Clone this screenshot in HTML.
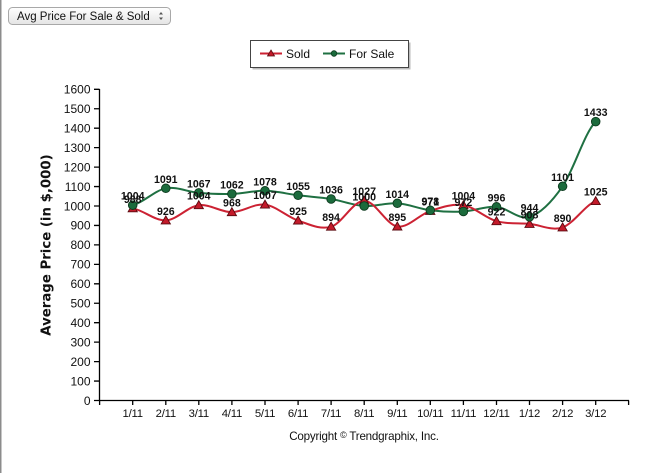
<!DOCTYPE html>
<html>
<head>
<meta charset="utf-8">
<style>
html,body{margin:0;padding:0;background:#fff;}
body{width:667px;height:473px;overflow:hidden;position:relative;}
svg{position:absolute;left:0;top:0;}
text{font-family:"Liberation Sans",Arial,sans-serif;}
</style>
</head>
<body>
<svg width="667" height="473" viewBox="0 0 667 473" xmlns="http://www.w3.org/2000/svg">
  <defs>
    <linearGradient id="dd" x1="0" y1="0" x2="0" y2="1">
      <stop offset="0" stop-color="#ffffff"/>
      <stop offset="1" stop-color="#e4e4e4"/>
    </linearGradient>
  </defs>
  <!-- left border -->
  <rect x="0" y="0" width="1.5" height="473" fill="#8c8c8c"/>

  <!-- dropdown -->
  <rect x="8.5" y="7.5" width="162" height="17" rx="4" ry="4" fill="url(#dd)" stroke="#a8a8a8"/>
  <text x="17" y="20" font-size="11.5" fill="#111">Avg Price For Sale &amp; Sold</text>
  <path d="M159,14.5 L163,14.5 L161,12 Z M159,17.5 L163,17.5 L161,20 Z" fill="#555"/>

  <!-- legend -->
  <rect x="252.5" y="42.5" width="158" height="27" fill="#bbb"/>
  <rect x="250.5" y="40.5" width="158" height="27" fill="#fff" stroke="#444"/>
  <line x1="260" y1="53.5" x2="282" y2="53.5" stroke="#cc2233" stroke-width="2"/>
  <path d="M271,50 L274.5,56 L267.5,56 Z" fill="#c41a2a" stroke="#5a0a10" stroke-width="0.8"/>
  <text x="286" y="58" font-size="12" fill="#111">Sold</text>
  <line x1="323" y1="53.5" x2="345" y2="53.5" stroke="#1f7042" stroke-width="2"/>
  <circle cx="334" cy="53.5" r="2.8" fill="#1b6b3c" stroke="#0d3a1e" stroke-width="0.8"/>
  <text x="349" y="58" font-size="12" fill="#111">For Sale</text>

  <!-- y axis title -->
  <text transform="translate(50.5,245) rotate(-90)" text-anchor="middle" font-size="13.3" font-weight="bold" fill="#111" style="font-family:'DejaVu Sans',Verdana,sans-serif">Average Price (in $,000)</text>

  <!-- axes -->
  <g stroke="#000" stroke-width="1.3" fill="none">
    <line x1="99.5" y1="89" x2="99.5" y2="401"/>
    <line x1="99" y1="400.5" x2="629" y2="400.5"/>
    <path d="M94,400.5H99.5 M94,381.05H99.5 M94,361.6H99.5 M94,342.15H99.5 M94,322.7H99.5 M94,303.25H99.5 M94,283.8H99.5 M94,264.35H99.5 M94,244.9H99.5 M94,225.45H99.5 M94,206H99.5 M94,186.55H99.5 M94,167.1H99.5 M94,147.65H99.5 M94,128.2H99.5 M94,108.75H99.5 M94,89.3H99.5"/>
    <path d="M99.6,400.5V405 M132.7,400.5V405 M165.8,400.5V405 M198.8,400.5V405 M231.9,400.5V405 M265,400.5V405 M298.1,400.5V405 M331.1,400.5V405 M364.2,400.5V405 M397.3,400.5V405 M430.3,400.5V405 M463.4,400.5V405 M496.5,400.5V405 M529.5,400.5V405 M562.6,400.5V405 M595.7,400.5V405 M628.6,400.5V405"/>
  </g>

  <!-- y tick labels -->
  <g font-size="12" fill="#111" text-anchor="end">
    <text x="90.5" y="404.8">0</text>
    <text x="90.5" y="385.3">100</text>
    <text x="90.5" y="365.9">200</text>
    <text x="90.5" y="346.4">300</text>
    <text x="90.5" y="327">400</text>
    <text x="90.5" y="307.5">500</text>
    <text x="90.5" y="288.1">600</text>
    <text x="90.5" y="268.6">700</text>
    <text x="90.5" y="249.2">800</text>
    <text x="90.5" y="229.7">900</text>
    <text x="90.5" y="210.3">1000</text>
    <text x="90.5" y="190.8">1100</text>
    <text x="90.5" y="171.4">1200</text>
    <text x="90.5" y="151.9">1300</text>
    <text x="90.5" y="132.5">1400</text>
    <text x="90.5" y="113">1500</text>
    <text x="90.5" y="93.6">1600</text>
  </g>

  <!-- x tick labels -->
  <g font-size="11.3" fill="#111" text-anchor="middle" letter-spacing="-0.2">
    <text x="132.7" y="417">1/11</text>
    <text x="165.8" y="417">2/11</text>
    <text x="198.8" y="417">3/11</text>
    <text x="231.9" y="417">4/11</text>
    <text x="265" y="417">5/11</text>
    <text x="298.1" y="417">6/11</text>
    <text x="331.1" y="417">7/11</text>
    <text x="364.2" y="417">8/11</text>
    <text x="397.3" y="417">9/11</text>
    <text x="430.3" y="417">10/11</text>
    <text x="463.4" y="417">11/11</text>
    <text x="496.5" y="417">12/11</text>
    <text x="529.5" y="417">1/12</text>
    <text x="562.6" y="417">2/12</text>
    <text x="595.7" y="417">3/12</text>
  </g>

  <text x="364" y="440" font-size="11.6" fill="#111" text-anchor="middle" letter-spacing="-0.2">Copyright <tspan font-size="9" dy="-2">©</tspan><tspan dy="2"> Trendgraphix, Inc.</tspan></text>

  <!-- For Sale line -->
  <path fill="none" stroke="#1f7042" stroke-width="2" d="M132.7,205.2 C143.7,202.4 154.8,190.4 165.8,188.3 C176.8,186.3 187.8,192.0 198.8,192.9 C209.8,193.8 220.9,194.3 231.9,193.9 C242.9,193.6 254.0,190.6 265.0,190.8 C276.0,191.0 287.1,193.9 298.1,195.3 C309.1,196.7 320.1,197.2 331.1,199.0 C342.1,200.8 353.2,205.3 364.2,206.0 C375.2,206.7 386.3,202.6 397.3,203.3 C408.3,204.0 419.3,208.9 430.3,210.3 C441.3,211.7 452.4,212.1 463.4,211.5 C474.4,210.9 485.5,205.9 496.5,206.8 C507.5,207.7 518.5,220.3 529.5,216.9 C540.5,213.5 551.6,202.2 562.6,186.3 C573.6,170.4 584.7,132.4 595.7,121.6"/>

  <!-- Sold line -->
  <path fill="none" stroke="#cc2233" stroke-width="2" d="M132.7,208.3 C143.7,210.3 154.8,220.9 165.8,220.4 C176.8,219.9 187.8,206.6 198.8,205.2 C209.8,203.8 220.9,212.3 231.9,212.2 C242.9,212.1 254.0,203.2 265.0,204.6 C276.0,206.0 287.1,216.9 298.1,220.6 C309.1,224.3 320.1,230.0 331.1,226.7 C342.1,223.4 353.2,200.7 364.2,200.7 C375.2,200.7 386.3,224.8 397.3,226.5 C408.3,228.2 419.3,214.5 430.3,210.9 C441.3,207.4 452.4,203.5 463.4,205.2 C474.4,206.9 485.5,218.1 496.5,221.2 C507.5,224.3 518.5,222.9 529.5,223.9 C540.5,224.9 551.6,231.2 562.6,227.4 C573.6,223.6 584.7,205.5 595.7,201.1"/>

  <!-- Sold markers (triangles) -->
  <g fill="#c41a2a" stroke="#5a0a10" stroke-width="0.9">
    <path d="M132.7,203.8 l4.6,8 h-9.2 Z"/>
    <path d="M165.8,215.9 l4.6,8 h-9.2 Z"/>
    <path d="M198.8,200.7 l4.6,8 h-9.2 Z"/>
    <path d="M231.9,207.7 l4.6,8 h-9.2 Z"/>
    <path d="M265,200.1 l4.6,8 h-9.2 Z"/>
    <path d="M298.1,216.1 l4.6,8 h-9.2 Z"/>
    <path d="M331.1,222.2 l4.6,8 h-9.2 Z"/>
    <path d="M364.2,196.2 l4.6,8 h-9.2 Z"/>
    <path d="M397.3,222 l4.6,8 h-9.2 Z"/>
    <path d="M430.3,206.4 l4.6,8 h-9.2 Z"/>
    <path d="M463.4,200.7 l4.6,8 h-9.2 Z"/>
    <path d="M496.5,216.7 l4.6,8 h-9.2 Z"/>
    <path d="M529.5,219.4 l4.6,8 h-9.2 Z"/>
    <path d="M562.6,222.9 l4.6,8 h-9.2 Z"/>
    <path d="M595.7,196.6 l4.6,8 h-9.2 Z"/>
  </g>

  <!-- For Sale markers (circles) -->
  <g fill="#1b6b3c" stroke="#0d3a1e" stroke-width="0.9">
    <circle cx="132.7" cy="205.2" r="4.3"/>
    <circle cx="165.8" cy="188.3" r="4.3"/>
    <circle cx="198.8" cy="192.9" r="4.3"/>
    <circle cx="231.9" cy="193.9" r="4.3"/>
    <circle cx="265" cy="190.8" r="4.3"/>
    <circle cx="298.1" cy="195.3" r="4.3"/>
    <circle cx="331.1" cy="199" r="4.3"/>
    <circle cx="364.2" cy="206" r="4.3"/>
    <circle cx="397.3" cy="203.3" r="4.3"/>
    <circle cx="430.3" cy="210.3" r="4.3"/>
    <circle cx="463.4" cy="211.5" r="4.3"/>
    <circle cx="496.5" cy="206.8" r="4.3"/>
    <circle cx="529.5" cy="216.9" r="4.3"/>
    <circle cx="562.6" cy="186.3" r="4.3"/>
    <circle cx="595.7" cy="121.6" r="4.3"/>
  </g>

  <!-- data labels -->
  <g font-size="10.6" font-weight="bold" fill="#111" text-anchor="middle">
    <text x="132.7" y="199.7">1004</text>
    <text x="165.8" y="182.8">1091</text>
    <text x="198.8" y="187.4">1067</text>
    <text x="231.9" y="188.4">1062</text>
    <text x="265" y="185.3">1078</text>
    <text x="298.1" y="189.8">1055</text>
    <text x="331.1" y="193.5">1036</text>
    <text x="364.2" y="200.5">1000</text>
    <text x="397.3" y="197.8">1014</text>
    <text x="430.3" y="204.8">978</text>
    <text x="463.4" y="206">972</text>
    <text x="496.5" y="201.3">996</text>
    <text x="529.5" y="211.4">944</text>
    <text x="562.6" y="180.8">1101</text>
    <text x="595.7" y="116.1">1433</text>
    <text x="132.7" y="202.8">988</text>
    <text x="165.8" y="214.9">926</text>
    <text x="198.8" y="199.7">1004</text>
    <text x="231.9" y="206.7">968</text>
    <text x="265" y="199.1">1007</text>
    <text x="298.1" y="215.1">925</text>
    <text x="331.1" y="221.2">894</text>
    <text x="364.2" y="195.2">1027</text>
    <text x="397.3" y="221">895</text>
    <text x="430.3" y="205.4">971</text>
    <text x="463.4" y="199.7">1004</text>
    <text x="496.5" y="215.7">922</text>
    <text x="529.5" y="218.4">908</text>
    <text x="562.6" y="221.9">890</text>
    <text x="595.7" y="195.6">1025</text>
  </g>
</svg>
</body>
</html>
